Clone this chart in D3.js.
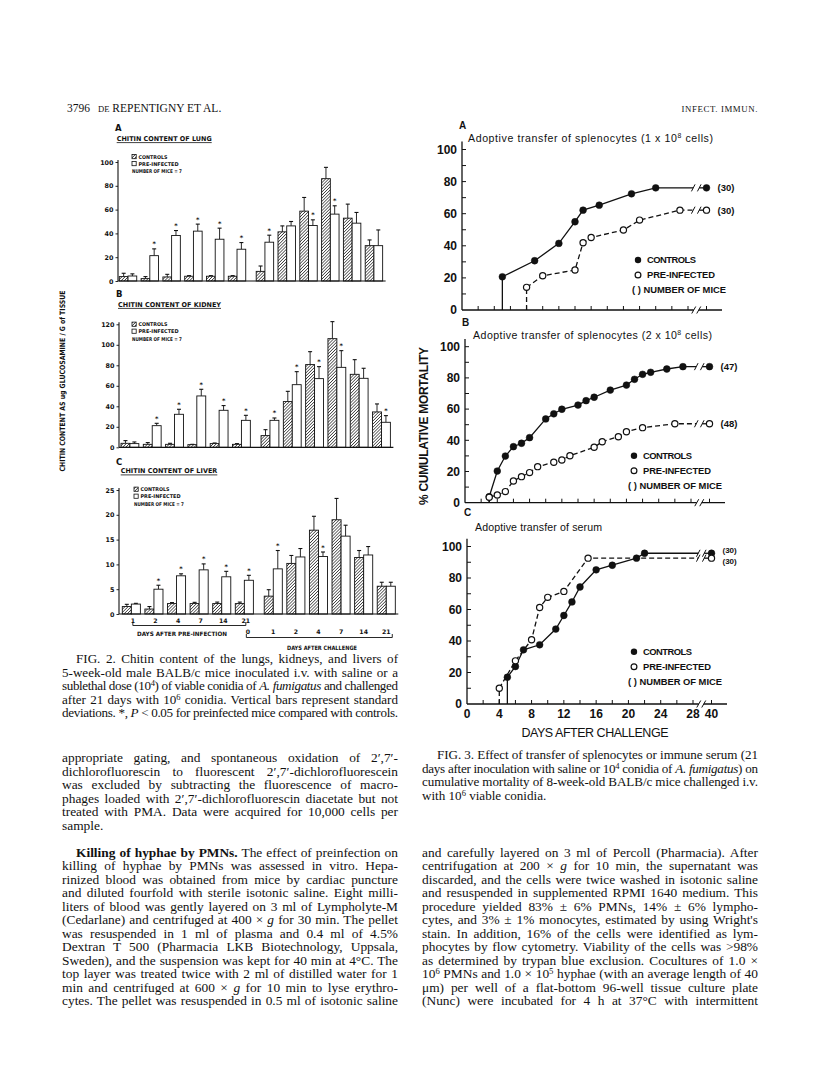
<!DOCTYPE html>
<html lang="en">
<head>
<meta charset="utf-8">
<title>Chitin content and adoptive transfer</title>
<script src="https://cdn.jsdelivr.net/npm/d3@7"></script>
<style>
  body { margin: 0; background: #fff; }
  svg { display: block; }
  .serif { font-family: "Liberation Serif", "DejaVu Serif", serif; fill: #111; }
  .plot { font-family: "DejaVu Sans", sans-serif; font-weight: bold; fill: #111; }
  .helv { font-family: "Liberation Sans", Arial, sans-serif; fill: #111; }
</style>
</head>
<body>
<svg id="page" width="816" height="1073"></svg>
<script>
// ---------- Fig. 2 : chitin content (mean, SD) ----------
var dayLabels = ["1", "2", "4", "7", "14", "21", "1", "2", "4", "7", "14", "21"];
var challengeZero = "0";

var lungCtrl   = [3.7, 2.0, 3.4, 4.0, 4.0, 4.0, 8.1, 41.3, 58.7, 86.0, 52.8, 29.7];
var lungCtrlSd = [2.8, 1.7, 2.2, 0.5, 0.5, 0.5, 4.5, 5.0, 11.5, 9.5, 11.8, 4.8];
var lungPre    = [4.2, 21.3, 38.2, 41.9, 35.1, 26.7, 32.6, 46.3, 46.6, 56.2, 48.6, 29.7];
var lungPreSd  = [1.8, 5.7, 4.2, 5.9, 9.3, 5.6, 5.9, 3.7, 4.8, 7.0, 9.0, 13.2];
var lungSig    = [0, 1, 1, 1, 1, 1, 1, 0, 1, 1, 0, 0];

var kidneyCtrl   = [3.9, 2.9, 2.9, 2.6, 3.6, 2.9, 11.4, 44.6, 80.7, 106.0, 71.2, 34.5];
var kidneyCtrlSd = [2.6, 1.7, 1.0, 0.3, 0.6, 0.7, 5.8, 10.0, 12.6, 16.6, 14.3, 7.8];
var kidneyPre    = [3.6, 21.1, 32.2, 50.1, 36.1, 26.3, 26.3, 61.1, 67.0, 78.0, 67.3, 24.4];
var kidneyPreSd  = [1.6, 2.3, 4.9, 6.5, 4.6, 4.9, 2.3, 12.7, 11.7, 16.3, 9.8, 6.5];
var kidneySig    = [0, 1, 1, 1, 1, 1, 1, 1, 1, 1, 0, 1];

var liverCtrl   = [1.5, 1.0, 2.1, 2.1, 2.1, 2.1, 3.6, 10.2, 16.9, 19.0, 11.4, 5.6];
var liverCtrlSd = [0.45, 0.5, 0.2, 0.25, 0.3, 0.3, 1.3, 1.6, 2.8, 4.3, 1.4, 0.8];
var liverPre    = [2.0, 5.0, 7.7, 8.9, 7.5, 6.8, 9.1, 11.5, 11.6, 15.7, 11.9, 5.6];
var liverPreSd  = [0.15, 0.8, 0.4, 1.2, 1.1, 1.0, 3.7, 1.7, 0.9, 2.2, 1.7, 0.8];
var liverSig    = [0, 1, 1, 1, 1, 1, 1, 0, 1, 0, 0, 0];

// ---------- Fig. 3 : cumulative mortality (%) by day after challenge ----------
var aCtrlDays = [5, 9, 12, 14, 15, 17, 21, 24, 40];
var aCtrlVals = [20.7, 30.7, 41.5, 55, 62.2, 65.3, 72.4, 76.1, 76.1];
var aPreDays  = [8, 10, 14, 15, 16, 20, 22, 27, 40];
var aPreVals  = [14.1, 21.3, 24.9, 41.9, 45.2, 49.8, 56, 62.2, 62.2];

var bCtrlDays = [3, 4, 5, 6, 7, 8, 10, 11, 12, 14, 15, 16, 18, 20, 21, 22, 23, 25, 27, 40];
var bCtrlVals = [3.8, 20.3, 29.9, 35.9, 38.1, 41.7, 53.7, 57, 59.9, 62.6, 65.4, 67.6, 72.2, 75.4, 79.1, 82.3, 83.6, 85.7, 87.2, 87.2];
var bPreDays  = [3, 4, 5, 6, 7, 8, 9, 11, 12, 13, 16, 17, 19, 20, 22, 26, 40];
var bPreVals  = [3.5, 4.9, 7.1, 13.9, 16.7, 19.3, 23.1, 25.9, 27.4, 30.1, 35.5, 39.1, 42.3, 45.5, 48.1, 50.6, 50.6];

var cCtrlDays = [5, 6, 7, 9, 11, 12, 13, 14, 16, 18, 21, 22, 40];
var cCtrlVals = [17, 23.8, 34.4, 37.6, 47.6, 56.2, 64.8, 74.3, 85.2, 88.1, 92.6, 95.7, 95.7];
var cPreDays  = [4, 6, 8, 9, 10, 12, 15, 40];
var cPreVals  = [10, 27.4, 40.8, 61.3, 67.7, 71.5, 92.6, 92.6];

var miceA = ["(30)", "(30)"];
var miceB = ["(47)", "(48)"];
var miceC = ["(30)", "(30)"];
var xTickLabels = [0, 4, 8, 12, 16, 20, 24, 28, 40];

var svg = d3.select("#page");

// hatch used for the control bars
var defs = svg.append("defs");
var pat = defs.append("pattern").attr("id", "hatch")
  .attr("patternUnits", "userSpaceOnUse").attr("width", 2.2).attr("height", 2.2)
  .attr("patternTransform", "rotate(45)");
pat.append("rect").attr("width", 2.2).attr("height", 2.2).attr("fill", "#fff");
pat.append("line").attr("x1", 0).attr("y1", 0).attr("x2", 0).attr("y2", 2.2)
  .attr("stroke", "#111").attr("stroke-width", 1.2);

// small helper for text with _italic_, ~bold~ and ^superscript^ runs
function rich(sel, str) {
  var parts = str.split(/(_[^_]+_|~[^~]+~|\^[^^]+\^)/).filter(function(s) { return s.length; });
  var up = false;
  parts.forEach(function(s) {
    var t = sel.append("tspan");
    if (s[0] === "^") {
      t.text(s.slice(1, -1)).attr("dy", -4).attr("font-size", "0.65em");
      up = true;
      return;
    }
    if (up) { t.attr("dy", 4); up = false; }
    if (s[0] === "_") t.text(s.slice(1, -1)).attr("font-style", "italic");
    else if (s[0] === "~") t.text(s.slice(1, -1)).attr("font-weight", "bold");
    else t.text(s);
  });
}

// justified lines: stretch the word spaces, not the letters
function block(lines, x, y0, width, lastFree, indent, size) {
  lines.forEach(function(str, i) {
    var xi = x + (i === 0 && indent ? indent : 0);
    var t = svg.append("text").attr("class", "serif").attr("x", xi).attr("y", y0 + i * 13.5)
      .attr("font-size", size);
    rich(t, str);
    if (lastFree && i === lines.length - 1) return;
    var want = width - (xi - x);
    var have = t.node().getComputedTextLength();
    var gaps = str.split(" ").length - 1;
    if (have < want && gaps > 0) t.attr("word-spacing", (want - have) / gaps);
    else t.attr("textLength", want).attr("lengthAdjust", "spacing");
  });
}

// ---------- running head ----------
svg.append("text").attr("class", "serif").attr("x", 67).attr("y", 112).attr("font-size", 11.5).text("3796");
var rh = svg.append("text").attr("class", "serif").attr("x", 98).attr("y", 112).attr("font-size", 11.5);
rh.append("tspan").attr("font-size", 8.6).text("DE");
rh.append("tspan").text(" REPENTIGNY ET AL.");
svg.append("text").attr("class", "serif").attr("x", 758).attr("y", 112).attr("font-size", 8.8)
  .attr("text-anchor", "end").attr("letter-spacing", 0.6).text("INFECT. IMMUN.");

// ---------- Fig. 2 panels ----------
var fig2 = [
  { letter: "A", title: "CHITIN CONTENT OF LUNG", ctrl: lungCtrl, ctrlSd: lungCtrlSd, pre: lungPre, preSd: lungPreSd, sig: lungSig,
    yMax: 100, yStep: 20, ax: 118, y0: 281, yTop: 162, xStart: 119.3, step: 21.8,
    letterY: 130.5, titleX: 116.7, titleY: 141, titleLen: 95, legX: 132, legY: 156.7 },
  { letter: "B", title: "CHITIN CONTENT OF KIDNEY", ctrl: kidneyCtrl, ctrlSd: kidneyCtrlSd, pre: kidneyPre, preSd: kidneyPreSd, sig: kidneySig,
    yMax: 120, yStep: 20, ax: 119, y0: 447.3, yTop: 324.3, xStart: 121, step: 22.3,
    letterY: 296.5, titleX: 118, titleY: 306.8, titleLen: 103, legX: 132, legY: 324.3 },
  { letter: "C", title: "CHITIN CONTENT OF LIVER", ctrl: liverCtrl, ctrlSd: liverCtrlSd, pre: liverPre, preSd: liverPreSd, sig: liverSig,
    yMax: 25, yStep: 5, ax: 119, y0: 614, yTop: 490, xStart: 122.3, step: 22.6,
    letterY: 465.2, titleX: 120.7, titleY: 473.3, titleLen: 96.6, legX: 134, legY: 489.3 }
];

function slot(i) { return i < 6 ? i : i + 0.28; }

fig2.forEach(function(p) {
  var g = svg.append("g");
  var y = d3.scaleLinear().domain([0, p.yMax]).range([p.y0, p.yTop]);
  var x = d3.scaleLinear().domain([0, 1]).range([p.xStart, p.xStart + p.step]);
  var bw = p.step * 0.4;

  g.append("text").attr("class", "plot").attr("x", p.ax - 3).attr("y", p.letterY).attr("font-size", 8.5)
    .attr("font-weight", "normal").text(p.letter);
  g.append("text").attr("class", "plot").attr("x", p.titleX).attr("y", p.titleY).attr("font-size", 6.6)
    .attr("textLength", p.titleLen).attr("lengthAdjust", "spacingAndGlyphs").text(p.title);
  g.append("line").attr("x1", p.titleX).attr("x2", p.titleX + p.titleLen)
    .attr("y1", p.titleY + 1.6).attr("y2", p.titleY + 1.6).attr("stroke", "#111").attr("stroke-width", 0.8);

  var axis = d3.axisLeft(y).tickValues(d3.range(0, p.yMax + 0.01, p.yStep)).tickSize(2.5).tickPadding(2);
  var ag = g.append("g").attr("transform", "translate(" + p.ax + ",0)").call(axis);
  ag.select(".domain").attr("d", "M0," + p.y0 + "V" + (p.yTop - 2)).attr("stroke", "#111").attr("stroke-width", 1.1);
  ag.selectAll(".tick line").attr("stroke", "#111").attr("stroke-width", 0.9);
  ag.selectAll(".tick text").attr("class", "plot").attr("font-size", 6.4).attr("fill", "#111");
  ag.attr("font-family", null).attr("font-size", null);

  var idx = d3.range(p.ctrl.length);
  var lastEnd = x(slot(idx.length - 1)) + 2 * bw;

  function bars(vals, sds, dx, fill, sig) {
    idx.forEach(function(i) {
      var bx = x(slot(i)) + dx;
      var cx = bx + bw / 2;
      var top = y(vals[i] + sds[i]);
      g.append("line").attr("x1", cx).attr("x2", cx).attr("y1", y(vals[i])).attr("y2", top)
        .attr("stroke", "#111").attr("stroke-width", 0.9);
      g.append("line").attr("x1", cx - 2).attr("x2", cx + 2).attr("y1", top).attr("y2", top)
        .attr("stroke", "#111").attr("stroke-width", 1.1);
      g.append("rect").attr("x", bx).attr("y", y(vals[i])).attr("width", bw).attr("height", p.y0 - y(vals[i]))
        .attr("fill", fill).attr("stroke", "#111").attr("stroke-width", 0.9);
      if (sig && sig[i]) {
        g.append("text").attr("class", "plot").attr("x", cx).attr("y", top - 2.5).attr("font-size", 6.5)
          .attr("text-anchor", "middle").text("*");
      }
    });
  }
  bars(p.ctrl, p.ctrlSd, 0, "url(#hatch)", null);
  bars(p.pre, p.preSd, bw, "#fff", p.sig);

  g.append("line").attr("x1", p.ax).attr("x2", lastEnd + 3).attr("y1", p.y0).attr("y2", p.y0)
    .attr("stroke", "#111").attr("stroke-width", 1.2);

  // legend
  g.append("rect").attr("x", p.legX).attr("y", p.legY - 2.2).attr("width", 4.2).attr("height", 4.2)
    .attr("fill", "url(#hatch)").attr("stroke", "#111").attr("stroke-width", 0.8);
  g.append("rect").attr("x", p.legX).attr("y", p.legY + 7 - 2.2).attr("width", 4.2).attr("height", 4.2)
    .attr("fill", "#fff").attr("stroke", "#111").attr("stroke-width", 0.8);
  [["CONTROLS", 29], ["PRE-INFECTED", 40]].forEach(function(d, k) {
    g.append("text").attr("class", "plot").attr("x", p.legX + 6.5).attr("y", p.legY + k * 7 + 1.9)
      .attr("font-size", 5.2).attr("textLength", d[1]).attr("lengthAdjust", "spacingAndGlyphs").text(d[0]);
  });
  g.append("text").attr("class", "plot").attr("x", p.legX).attr("y", p.legY + 16.5)
    .attr("font-size", 5.2).attr("textLength", 50).attr("lengthAdjust", "spacingAndGlyphs").text("NUMBER OF MICE = 7");

  p.center = function(i) { return x(slot(i)) + bw; };
});

// shared y label of Fig. 2
svg.append("text").attr("class", "plot").attr("font-size", 7.4)
  .attr("transform", "translate(65,381) rotate(-90)").attr("text-anchor", "middle")
  .attr("textLength", 181).attr("lengthAdjust", "spacingAndGlyphs")
  .text("CHITIN CONTENT AS ug GLUCOSAMINE / G of TISSUE");

// day axis under panel C
(function() {
  var p = fig2[2];
  var g = svg.append("g");
  dayLabels.forEach(function(lab, i) {
    var pre = i < 6;
    g.append("text").attr("class", "plot").attr("x", p.center(i) + (pre ? 1.5 : 0)).attr("y", pre ? 622.5 : 634)
      .attr("font-size", 6.2).attr("text-anchor", "middle").text(lab);
  });
  var zx = p.center(5) + 3.5;
  g.append("text").attr("class", "plot").attr("x", zx).attr("y", 634).attr("font-size", 6.2)
    .attr("text-anchor", "middle").text(challengeZero);
  var x1 = p.center(0) + 1.5, x2 = p.center(5) + 1.5, x3 = p.center(11) + 6;
  g.append("path").attr("d", "M" + x1 + ",622 V625.5 H" + x2 + " V622")
    .attr("fill", "none").attr("stroke", "#111").attr("stroke-width", 0.9);
  g.append("path").attr("d", "M" + (zx - 1.5) + ",634 V637.5 H" + x3 + " V634")
    .attr("fill", "none").attr("stroke", "#111").attr("stroke-width", 0.9);
  g.append("text").attr("class", "plot").attr("x", 182).attr("y", 636).attr("font-size", 6)
    .attr("text-anchor", "middle").attr("textLength", 90).attr("lengthAdjust", "spacingAndGlyphs")
    .text("DAYS AFTER PRE-INFECTION");
  g.append("text").attr("class", "plot").attr("x", 322).attr("y", 650).attr("font-size", 6)
    .attr("text-anchor", "middle").attr("textLength", 70).attr("lengthAdjust", "spacingAndGlyphs")
    .text("DAYS AFTER CHALLENGE");
})();

// ---------- Fig. 3 panels ----------
var fig3 = [
  { letter: "A", title: "Adoptive transfer of splenocytes  (1 x 10^8^ cells)", titleLen: 245,
    x0: 462, y0: 310, y100: 149.5, letterY: 129, titleX: 468, titleY: 142, legX: 638, legY: 260,
    ctrlDays: aCtrlDays, ctrlVals: aCtrlVals, preDays: aPreDays, preVals: aPreVals, mice: miceA, noteDy: [0, 0], xLabels: false },
  { letter: "B", title: "Adoptive transfer of splenocytes  (2 x 10^8^ cells)", titleLen: 239,
    x0: 465, y0: 502.7, y100: 346.7, letterY: 325.5, titleX: 473, titleY: 339, legX: 634, legY: 455.7,
    ctrlDays: bCtrlDays, ctrlVals: bCtrlVals, preDays: bPreDays, preVals: bPreVals, mice: miceB, noteDy: [0, 0], xLabels: false },
  { letter: "C", title: "Adoptive transfer of serum", titleLen: 127,
    x0: 467, y0: 704, y100: 546.5, letterY: 515.5, titleX: 475, titleY: 530.5, legX: 634, legY: 651.7,
    ctrlDays: cCtrlDays, ctrlVals: cCtrlVals, preDays: cPreDays, preVals: cPreVals, mice: miceC, noteDy: [-2.6, 2.6], xLabels: true }
];

fig3.forEach(function(p) {
  var g = svg.append("g");
  var x = d3.scaleLinear().domain([0, 28, 40]).range([p.x0, p.x0 + 226, p.x0 + 244.5]);
  var y = d3.scaleLinear().domain([0, 100]).range([p.y0, p.y100]);
  var bx = (x(28) + x(40)) / 2 - 1;
  var small = p.noteDy[0] !== 0;

  g.append("text").attr("class", "helv").attr("x", p.x0 - 3).attr("y", p.letterY).attr("font-size", 10)
    .attr("font-weight", "bold").text(p.letter);
  var tt = g.append("text").attr("class", "helv").attr("x", p.titleX).attr("y", p.titleY).attr("font-size", 10.6)
    .attr("textLength", p.titleLen).attr("lengthAdjust", "spacing");
  rich(tt, p.title);

  // y axis: labels every 20, ticks every 10
  g.append("line").attr("x1", p.x0).attr("x2", p.x0).attr("y1", p.y0).attr("y2", y(105))
    .attr("stroke", "#111").attr("stroke-width", 1.3);
  d3.range(10, 101, 10).forEach(function(v) {
    g.append("line").attr("x1", p.x0).attr("x2", p.x0 + 4).attr("y1", y(v)).attr("y2", y(v))
      .attr("stroke", "#111").attr("stroke-width", 1);
  });
  y.ticks(5).forEach(function(v) {
    g.append("text").attr("class", "helv").attr("x", p.x0 - 5).attr("y", y(v) + 4.3).attr("font-size", 12)
      .attr("font-weight", "bold").attr("text-anchor", "end").text(v);
  });

  // x axis with a break before 40
  var xEnd = p.x0 + 260;
  g.append("path").attr("d", "M" + p.x0 + "," + p.y0 + "H" + (bx - 2.5) + "M" + (bx + 2.5) + "," + p.y0 + "H" + xEnd)
    .attr("stroke", "#111").attr("stroke-width", 1.3).attr("fill", "none");
  [bx - 2.5, bx + 2.5].forEach(function(sx) {
    g.append("line").attr("x1", sx - 2).attr("x2", sx + 2).attr("y1", p.y0 + 3.5).attr("y2", p.y0 - 3.5)
      .attr("stroke", "#111").attr("stroke-width", 1);
  });
  d3.range(2, 29, 2).concat([40]).forEach(function(d) {
    g.append("line").attr("x1", x(d)).attr("x2", x(d)).attr("y1", p.y0).attr("y2", p.y0 - 4)
      .attr("stroke", "#111").attr("stroke-width", 1);
  });
  if (p.xLabels) {
    xTickLabels.forEach(function(d) {
      g.append("text").attr("class", "helv").attr("x", x(d)).attr("y", p.y0 + 13.5).attr("font-size", 12)
        .attr("font-weight", "bold").attr("text-anchor", "middle").text(d);
    });
  }

  function series(days, vals, filled, note, ndy) {
    var pts = days.map(function(d, i) { return [x(d), y(vals[i])]; });
    var dash = filled ? null : "5,3";
    g.append("line").attr("x1", pts[0][0]).attr("x2", pts[0][0]).attr("y1", p.y0).attr("y2", pts[0][1])
      .attr("stroke", "#111").attr("stroke-width", 1.3).attr("stroke-dasharray", dash);
    var n = pts.length;
    var a = pts[n - 2], b = pts[n - 1];
    var yAt = function(px) { return a[1] + (b[1] - a[1]) * (px - a[0]) / (b[0] - a[0]); };
    var first = pts.slice(0, n - 1).concat([[bx - 3, yAt(bx - 3)]]);
    var second = [[bx + 3, yAt(bx + 3)], b];
    [first, second].forEach(function(seg) {
      g.append("path").attr("d", d3.line()(seg)).attr("fill", "none").attr("stroke", "#111")
        .attr("stroke-width", 1.3).attr("stroke-dasharray", dash);
    });
    [bx - 3, bx + 3].forEach(function(sx) {
      g.append("line").attr("x1", sx - 1.8).attr("x2", sx + 1.8).attr("y1", yAt(sx) + 3.5).attr("y2", yAt(sx) - 3.5)
        .attr("stroke", "#111").attr("stroke-width", 1);
    });
    g.selectAll(null).data(pts).join("circle")
      .attr("cx", function(d) { return d[0]; }).attr("cy", function(d) { return d[1]; })
      .attr("r", filled ? 3.4 : 3.1).attr("fill", filled ? "#111" : "#fff")
      .attr("stroke", "#111").attr("stroke-width", filled ? 0.5 : 1.2);
    g.append("text").attr("class", "helv").attr("x", b[0] + 11).attr("y", b[1] + (small ? 2.8 : 3.5) + ndy)
      .attr("font-size", small ? 8 : 9.5).attr("font-weight", "bold").text(note);
  }
  series(p.ctrlDays, p.ctrlVals, true, p.mice[0], p.noteDy[0]);
  series(p.preDays, p.preVals, false, p.mice[1], p.noteDy[1]);

  // legend
  g.append("circle").attr("cx", p.legX).attr("cy", p.legY).attr("r", 3.2).attr("fill", "#111");
  g.append("circle").attr("cx", p.legX).attr("cy", p.legY + 15).attr("r", 2.9).attr("fill", "#fff")
    .attr("stroke", "#111").attr("stroke-width", 1.2);
  [["CONTROLS", 49, 0], ["PRE-INFECTED", 68, 15]].forEach(function(d) {
    g.append("text").attr("class", "helv").attr("x", p.legX + 9).attr("y", p.legY + d[2] + 3.4)
      .attr("font-size", 9.4).attr("font-weight", "bold").attr("textLength", d[1]).attr("lengthAdjust", "spacing").text(d[0]);
  });
  g.append("text").attr("class", "helv").attr("x", p.legX - 6).attr("y", p.legY + 33.4)
    .attr("font-size", 9.4).attr("font-weight", "bold").attr("textLength", 94).attr("lengthAdjust", "spacing")
    .text("( ) NUMBER OF MICE");
});

svg.append("text").attr("class", "helv").attr("font-size", 12).attr("font-weight", "bold")
  .attr("transform", "translate(428,426) rotate(-90)").attr("text-anchor", "middle")
  .attr("textLength", 158).attr("lengthAdjust", "spacing").text("% CUMULATIVE MORTALITY");
svg.append("text").attr("class", "helv").attr("x", 595).attr("y", 737).attr("font-size", 12.5)
  .attr("text-anchor", "middle").attr("textLength", 147).attr("lengthAdjust", "spacing").text("DAYS AFTER CHALLENGE");

// ---------- captions and running text ----------
block([
  "FIG. 2. Chitin content of the lungs, kidneys, and livers of",
  "5-week-old male BALB/c mice inoculated i.v. with saline or a",
  "sublethal dose (10^4^) of viable conidia of _A. fumigatus_ and challenged",
  "after 21 days with 10^6^ conidia. Vertical bars represent standard",
  "deviations. *, _P_ < 0.05 for preinfected mice compared with controls."
], 62, 663, 336, false, 14, 13.1);

block([
  "FIG. 3. Effect of transfer of splenocytes or immune serum (21",
  "days after inoculation with saline or 10^4^ conidia of _A. fumigatus_) on",
  "cumulative mortality of 8-week-old BALB/c mice challenged i.v.",
  "with 10^6^ viable conidia."
], 422, 759, 336, true, 15, 13.1);

block([
  "appropriate gating, and spontaneous oxidation of 2′,7′-",
  "dichlorofluorescin to fluorescent 2′,7′-dichlorofluorescein",
  "was excluded by subtracting the fluorescence of macro-",
  "phages loaded with 2′,7′-dichlorofluorescin diacetate but not",
  "treated with PMA. Data were acquired for 10,000 cells per",
  "sample."
], 62, 762, 336, true, 0, 13.4);

block([
  "~Killing of hyphae by PMNs.~ The effect of preinfection on",
  "killing of hyphae by PMNs was assessed in vitro. Hepa-",
  "rinized blood was obtained from mice by cardiac puncture",
  "and diluted fourfold with sterile isotonic saline. Eight milli-",
  "liters of blood was gently layered on 3 ml of Lympholyte-M",
  "(Cedarlane) and centrifuged at 400 × _g_ for 30 min. The pellet",
  "was resuspended in 1 ml of plasma and 0.4 ml of 4.5%",
  "Dextran T 500 (Pharmacia LKB Biotechnology, Uppsala,",
  "Sweden), and the suspension was kept for 40 min at 4°C. The",
  "top layer was treated twice with 2 ml of distilled water for 1",
  "min and centrifuged at 600 × _g_ for 10 min to lyse erythro-",
  "cytes. The pellet was resuspended in 0.5 ml of isotonic saline"
], 62, 856.5, 336, false, 14, 13.4);

block([
  "and carefully layered on 3 ml of Percoll (Pharmacia). After",
  "centrifugation at 200 × _g_ for 10 min, the supernatant was",
  "discarded, and the cells were twice washed in isotonic saline",
  "and resuspended in supplemented RPMI 1640 medium. This",
  "procedure yielded 83% ± 6% PMNs, 14% ± 6% lympho-",
  "cytes, and 3% ± 1% monocytes, estimated by using Wright's",
  "stain. In addition, 16% of the cells were identified as lym-",
  "phocytes by flow cytometry. Viability of the cells was >98%",
  "as determined by trypan blue exclusion. Cocultures of 1.0 ×",
  "10^6^ PMNs and 1.0 × 10^5^ hyphae (with an average length of 40",
  "μm) per well of a flat-bottom 96-well tissue culture plate",
  "(Nunc) were incubated for 4 h at 37°C with intermittent"
], 422, 856.5, 336, false, 0, 13.4);
</script>
</body>
</html>
